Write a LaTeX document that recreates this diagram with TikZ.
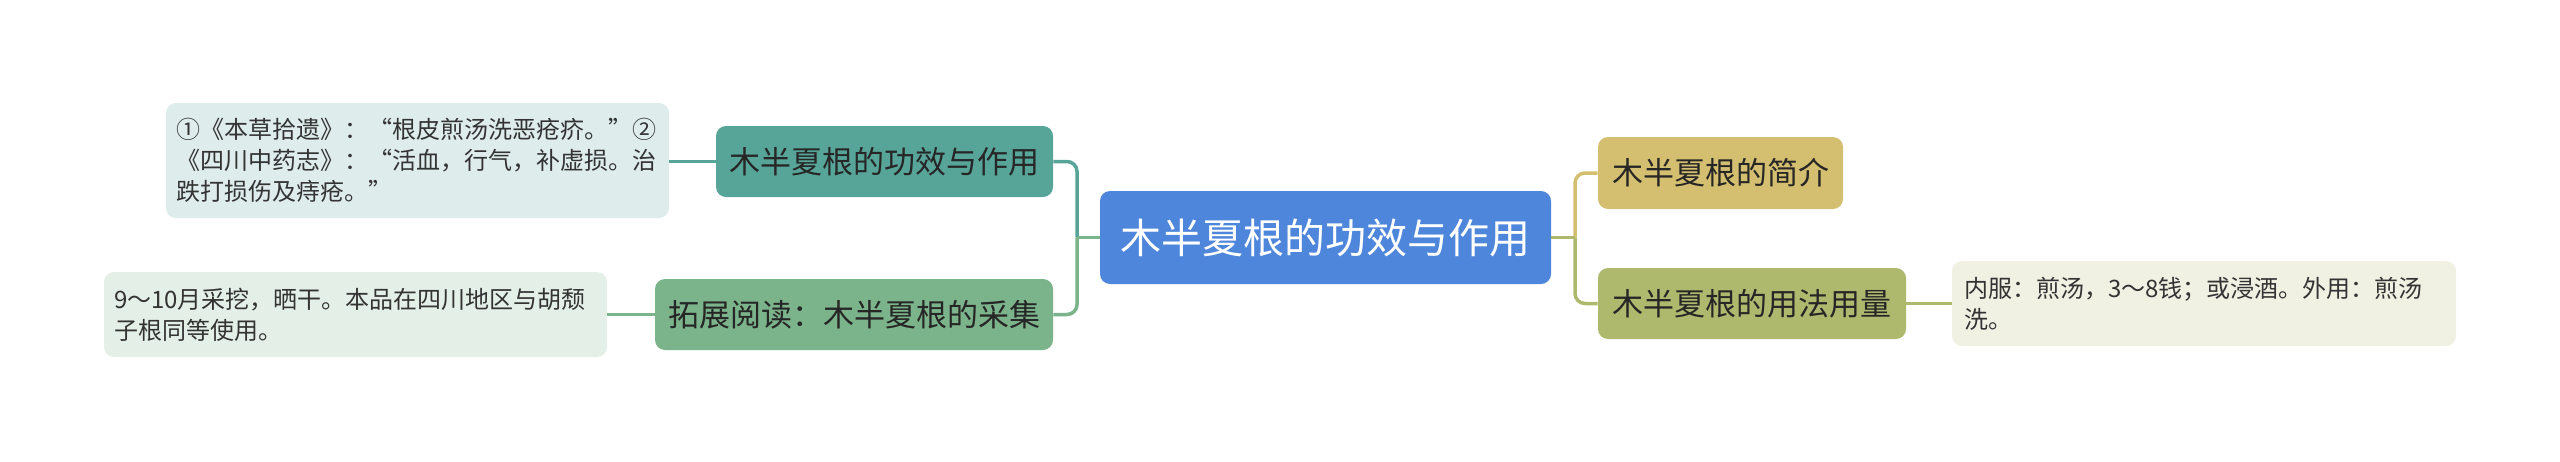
\documentclass[tikz,border=0pt]{standalone}
\usepackage{fontspec}
\newfontfamily\cjk{Noto Sans CJK SC}
\definecolor{cblue}{HTML}{4E86DB}
\definecolor{cteal}{HTML}{57A599}
\definecolor{cteall}{HTML}{DEEDEB}
\definecolor{cgreen}{HTML}{7BB38A}
\definecolor{cgreenl}{HTML}{E4F0E7}
\definecolor{cgold}{HTML}{D4BF70}
\definecolor{colive}{HTML}{AEB96E}
\definecolor{colivel}{HTML}{F0F0E3}
\definecolor{tdark}{HTML}{262626}
\definecolor{tleaf}{HTML}{333333}
\begin{document}
\begin{tikzpicture}[x=0.5pt,y=-0.5pt,
  box/.style={rounded corners=5pt, inner sep=0pt, align=center,
    minimum height=35.5pt, font=\cjk\fontsize{15.5}{18}\selectfont, text=tdark},
  leaf/.style={rounded corners=5pt, inner xsep=5pt, inner ysep=0pt, align=left,
    font=\cjk\fontsize{12}{15.5}\selectfont, text=tleaf},
  conn/.style={line width=1.75pt, rounded corners=5pt}]
\useasboundingbox (0,0) rectangle (2560,461);
% nodes
\node[box, fill=cblue, minimum width=225.5pt, minimum height=46.5pt,
  font=\cjk\fontsize{20.5}{24}\selectfont, text=white] (c) at (1325.5,237.5) {木半夏根的功效与作用};
\node[box, fill=cteal, minimum width=168.5pt] (n1) at (884.5,161.5) {木半夏根的功效与作用};
\node[box, fill=cgreen, minimum width=199pt] (n2) at (854,314.5) {拓展阅读：木半夏根的采集};
\node[box, fill=cgold, minimum width=122.5pt, minimum height=36pt] (r1) at (1720.5,173) {木半夏根的简介};
\node[box, fill=colive, minimum width=154pt] (r2) at (1752,303.5) {木半夏根的用法用量};
\node[leaf, fill=cteall, text width=241.5pt, minimum height=57.5pt] (l1) at (417.5,160.5)
  {①《本草拾遗》：“根皮煎汤洗恶疮疥。”②\\《四川中药志》：“活血，行气，补虚损。治\\跌打损伤及痔疮。”};
\node[leaf, fill=cgreenl, text width=241.5pt, minimum height=42.5pt] (l2) at (355.5,314.5)
  {9～10月采挖，晒干。本品在四川地区与胡颓\\子根同等使用。};
\node[leaf, fill=colivel, inner xsep=6pt, text width=240pt, minimum height=42.5pt] (l3) at (2204,303.5)
  {内服：煎汤，3～8钱；或浸酒。外用：煎汤\\洗。};
% connectors
\coordinate (jl) at (1077,237.5);
\coordinate (jr) at (1575,237.5);
\draw[conn, cteal] (jl) |- (n1.east);
\draw[conn, cgreen] (jl) |- (n2.east);
\draw[conn, cgreen] (c.west) -- (jl);
\draw[conn, cgold] (jr) |- (r1.west);
\draw[conn, colive] (jr) |- (r2.west);
\draw[conn, colive] (c.east) -- (jr);
\draw[conn, cteal] (n1.west) -- (n1.west -| l1.east);
\draw[conn, cgreen] (n2.west) -- (n2.west -| l2.east);
\draw[conn, colive] (r2.east) -- (r2.east -| l3.west);
\end{tikzpicture}
\end{document}
